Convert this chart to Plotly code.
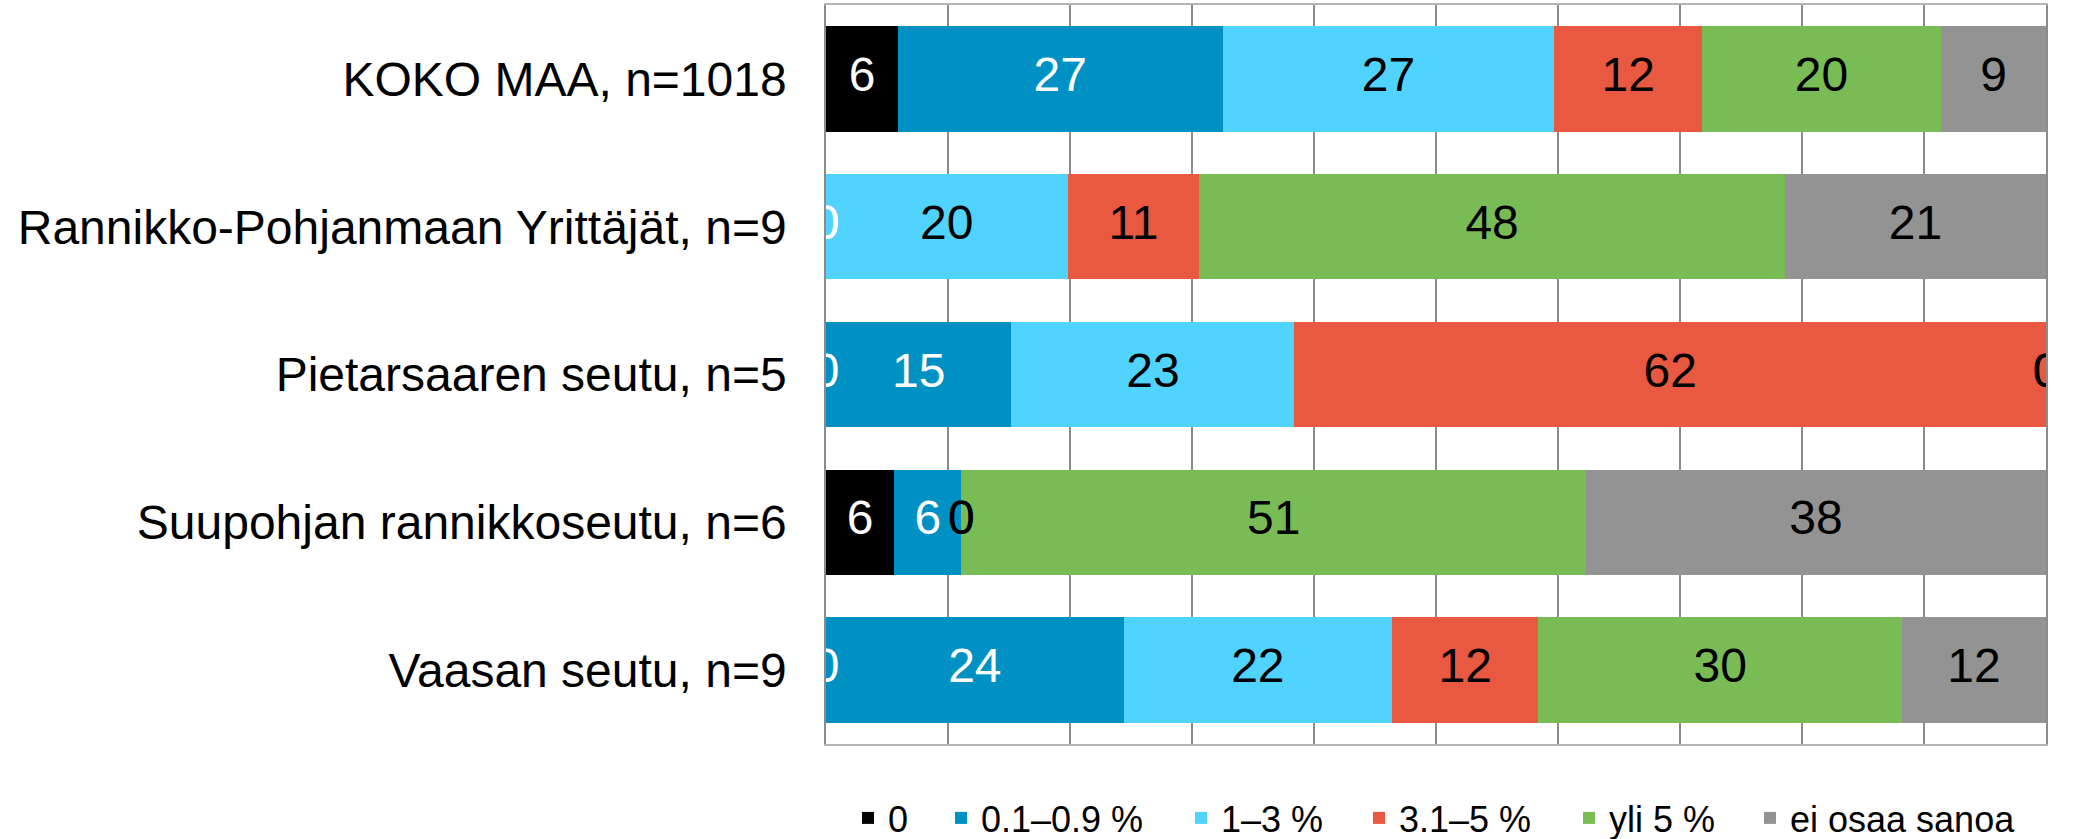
import plotly.graph_objects as go

categories = [
    "KOKO MAA, n=1018",
    "Rannikko-Pohjanmaan Yrittäjät, n=9",
    "Pietarsaaren seutu, n=5",
    "Suupohjan rannikkoseutu, n=6",
    "Vaasan seutu, n=9",
]
series_names = ["0", "0.1–0.9 %", "1–3 %", "3.1–5 %", "yli 5 %", "ei osaa sanoa"]

s_zero = [5.9, 0.0, 0.0, 5.6, 0.0]
s_01_09 = [26.6, 0.0, 15.2, 5.5, 24.4]
s_1_3 = [27.2, 19.8, 23.2, 0.0, 22.0]
s_31_5 = [12.1, 10.8, 61.6, 0.0, 12.0]
s_yli5 = [19.6, 48.0, 0.0, 51.2, 29.8]
s_eos = [8.6, 21.4, 0.0, 37.7, 11.8]

series_values = [s_zero, s_01_09, s_1_3, s_31_5, s_yli5, s_eos]
colors = ["#000000", "#0091C4", "#51D3FF", "#E95840", "#79BC55", "#939393"]
text_colors = ["#FFFFFF", "#FFFFFF", "#000000", "#000000", "#000000", "#000000"]

# legend entry positions (left edge of each legend box, in page pixels)
legend_x_px = [848, 941, 1181, 1359, 1569, 1750]

FONT = "Liberation Sans, Arial, sans-serif"
W, H = 2075, 839

fig = go.Figure()
legend_ids = ["legend"] + [f"legend{i}" for i in range(2, len(series_names) + 1)]
for name, vals, col, lid in zip(series_names, series_values, colors, legend_ids):
    fig.add_trace(go.Bar(
        y=categories, x=vals, name=name, orientation="h",
        marker=dict(color=col, line=dict(width=0)),
        hoverinfo="x+name", legend=lid,
    ))

# data labels centred on each segment (computed from the data)
cum = [0.0] * len(categories)
for vals, tcol in zip(series_values, text_colors):
    mids = [c + v / 2 for c, v in zip(cum, vals)]
    fig.add_trace(go.Scatter(
        y=categories, x=mids, mode="text",
        text=[f"{v:.0f}" for v in vals],
        textposition="middle center",
        textfont=dict(family=FONT, size=48, color=tcol),
        showlegend=False, hoverinfo="skip", cliponaxis=True,
    ))
    cum = [c + v for c, v in zip(cum, vals)]

legend_layouts = {}
for lid, xpx in zip(legend_ids, legend_x_px):
    legend_layouts[lid] = dict(
        orientation="h", xref="container", yref="container",
        x=xpx / W, xanchor="left", y=1 - 818 / H, yanchor="middle",
        font=dict(family=FONT, size=36, color="#000000"),
        bgcolor="rgba(0,0,0,0)", borderwidth=0,
    )

fig.update_layout(
    width=W, height=H,
    margin=dict(l=826, r=29, t=5, b=95, autoexpand=False),
    barmode="stack", bargap=0.286,
    plot_bgcolor="white", paper_bgcolor="white",
    font=dict(family=FONT, color="#000000"),
    showlegend=True,
    xaxis=dict(
        range=[0, 100], dtick=10, showticklabels=False, ticks="",
        showgrid=True, gridcolor="#8c8c8c", gridwidth=1.5, zeroline=False,
        showline=True, mirror=True, linecolor="#b4b4b4", linewidth=1.5,
        fixedrange=True,
    ),
    yaxis=dict(
        autorange="reversed", ticks="", ticklabelstandoff=28,
        tickfont=dict(family=FONT, size=48, color="#000000"),
        showgrid=False, zeroline=False,
        showline=True, mirror=True, linecolor="#8c8c8c", linewidth=1.5,
        fixedrange=True,
    ),
    **legend_layouts,
)

fig.write_html(
    "out.html",
    config={"displayModeBar": False},
    post_script="document.body.style.margin='0px';document.body.style.overflow='hidden';",
)
